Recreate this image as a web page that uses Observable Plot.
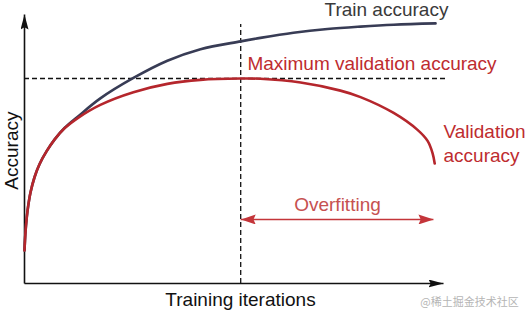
<!DOCTYPE html>
<html>
<head>
<meta charset="utf-8">
<script src="https://cdn.jsdelivr.net/npm/d3@7"></script>
<script src="https://cdn.jsdelivr.net/npm/@observablehq/plot@0.6"></script>
<style>
  html, body { margin: 0; padding: 0; background: #fff; }
  #chart svg { display: block; }
</style>
</head>
<body>
<div id="chart"></div>
<script>
// ---- data (training iterations 0..100, accuracy 0..1) ----
const trainIter = [0, 0.12, 0.36, 0.72, 1.43, 2.39, 3.58, 5.25, 7.16, 9.55, 12.7, 18.1, 26.0, 34.1, 42.0, 51.6, 56.3, 64.2, 72.3, 80.2, 88.1, 98.1];
const trainAcc  = [0.123, 0.161, 0.216, 0.270, 0.338, 0.395, 0.4435, 0.491, 0.535, 0.578, 0.620, 0.688, 0.764, 0.828, 0.871, 0.900, 0.913, 0.932, 0.946, 0.955, 0.962, 0.967];

const valIter = [0, 0.12, 0.36, 0.72, 1.43, 2.39, 3.58, 5.25, 7.16, 9.55, 12.7, 18.1, 26.0, 34.1, 42.0, 51.6, 56.3, 65.9, 75.4, 80.2, 88.1, 93.8, 96.2, 97.4, 97.9];
const valAcc  = [0.123, 0.161, 0.216, 0.270, 0.338, 0.395, 0.4435, 0.491, 0.535, 0.577, 0.615, 0.664, 0.711, 0.742, 0.757, 0.762, 0.761, 0.747, 0.717, 0.693, 0.634, 0.571, 0.530, 0.484, 0.446];

const bestIter = 51.6;      // iteration of maximum validation accuracy
const bestAcc = 0.762;      // maximum validation accuracy
const dashTop = 0.963;
const dashRight = 100.5;

const axisLines = [
  {x1: 0, y1: 0, x2: 100, y2: 0},
  {x1: 0, y1: 0, x2: 0, y2: 1}
];
const overfitSpan = [{x1: 51.6, x2: 97.6, y: 0.238}];

const labelsStart = [
  {text: "Train accuracy", x: 71.6, y: 0.996, color: "#3a3a3a"},
  {text: "Maximum validation accuracy", x: 53.2, y: 0.792, color: "#be2c2f"},
  {text: "Validation\naccuracy", x: 100, y: 0.4535, color: "#be2c2f"}
];
const labelsMiddle = [
  {text: "Overfitting", x: 74.7, y: 0.271, color: "#c65150"},
  {text: "Training iterations", x: 51.55, y: -0.0855, color: "#111"}
];
const yLabel = [{text: "Accuracy", x: -1.67, y: 0.494}];
const watermark = [{text: "@稀土掘金技术社区", x: 106.2, y: -0.084}];

const trainData = trainIter.map((x, i) => ({x, y: trainAcc[i]}));
const valData = valIter.map((x, i) => ({x, y: valAcc[i]}));

function filledHead(len, half) {
  return (color) => {
    const m = d3.create("svg:marker")
      .attr("viewBox", `${-len} ${-half} ${len} ${2 * half}`)
      .attr("markerUnits", "userSpaceOnUse")
      .attr("markerWidth", len)
      .attr("markerHeight", 2 * half)
      .attr("refX", 0)
      .attr("refY", 0)
      .attr("orient", "auto-start-reverse")
      .attr("fill", color)
      .attr("stroke", "none");
    m.append("path").attr("d", `M${-len},${-half}L0,0L${-len},${half}L${-len * 0.85},0Z`);
    return m.node();
  };
}

const font = "Liberation Sans, Arial, Helvetica, sans-serif";

const plot = Plot.plot({
  width: 525,
  height: 311,
  marginLeft: 24,
  marginRight: 82,
  marginTop: 14,
  marginBottom: 28,
  x: {domain: [0, 100], axis: null},
  y: {domain: [0, 1], axis: null},
  style: {fontFamily: font, background: "#fff", overflow: "visible"},
  marks: [
    Plot.ruleX([bestIter], {y1: 0, y2: dashTop, stroke: "#111", strokeWidth: 1.3, strokeDasharray: "5,3"}),
    Plot.ruleY([bestAcc], {x1: 0, x2: dashRight, stroke: "#111", strokeWidth: 1.3, strokeDasharray: "5,3"}),
    Plot.link(axisLines, {x1: "x1", y1: "y1", x2: "x2", y2: "y2", stroke: "#111", strokeWidth: 1.6, markerEnd: filledHead(15, 4)}),
    Plot.line(trainData, {x: "x", y: "y", stroke: "#383c55", strokeWidth: 2.6, curve: "catmull-rom"}),
    Plot.line(valData, {x: "x", y: "y", stroke: "#b5262c", strokeWidth: 2.6, curve: "catmull-rom"}),
    Plot.link(overfitSpan, {x1: "x1", x2: "x2", y1: "y", y2: "y", stroke: "#c4353a", strokeWidth: 1.6,
      markerStart: filledHead(15, 5), markerEnd: filledHead(15, 5)}),
    Plot.text(labelsStart, {x: "x", y: "y", text: "text", textAnchor: "start", fill: "color",
      lineAnchor: "bottom", lineHeight: 1.26, fontSize: 19}),
    Plot.text(labelsMiddle, {x: "x", y: "y", text: "text", textAnchor: "middle", fill: "color",
      lineAnchor: "bottom", fontSize: 19}),
    Plot.text(yLabel, {x: "x", y: "y", text: "text", rotate: -90, textAnchor: "middle",
      lineAnchor: "bottom", fontSize: 19, fill: "#111"}),
    Plot.text(watermark, {x: "x", y: "y", text: "text", textAnchor: "middle", lineAnchor: "bottom",
      fontSize: 11, fill: "#b5b5b5", fontFamily: "Noto Sans CJK SC, sans-serif"})
  ]
});

document.getElementById("chart").appendChild(plot);
</script>
</body>
</html>
